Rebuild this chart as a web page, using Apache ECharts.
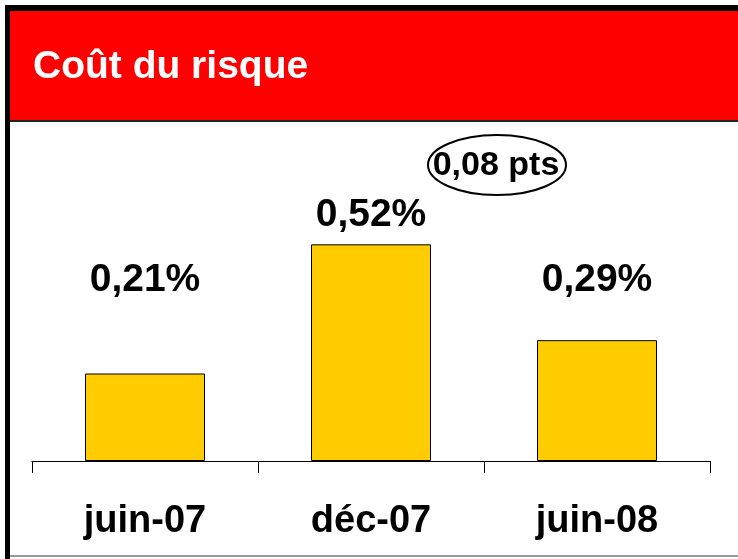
<!DOCTYPE html>
<html>
<head>
<meta charset="utf-8">
<script src="https://cdn.jsdelivr.net/npm/echarts@6/dist/echarts.min.js"></script>
<style>
  html, body { margin: 0; padding: 0; background: #fff; }
  #main { width: 738px; height: 559px; }
</style>
</head>
<body>
<div id="main"></div>
<script>
// données
var categories = ['juin-07', 'déc-07', 'juin-08'];
var values = [0.21, 0.52, 0.29];
var labelTexts = ['0,21%', '0,52%', '0,29%'];
var titleText = 'Coût du risque';
var deltaText = '0,08 pts';

// écart entre le haut de la barre et l'étiquette
var labelGap = [74, 10, 40];

var font = "'Liberation Sans', Arial, sans-serif";

var chart = echarts.init(document.getElementById('main'));

var barData = values.map(function (v, i) {
  return {
    value: v,
    label: {
      distance: labelGap[i],
      formatter: labelTexts[i]
    }
  };
});

var option = {
  backgroundColor: '#ffffff',
  animation: false,
  graphic: [
    // cadre
    { type: 'rect', shape: { x: 5, y: 5, width: 733, height: 6 }, style: { fill: '#000' } },
    { type: 'rect', shape: { x: 5, y: 5, width: 5, height: 554 }, style: { fill: '#000' } },
    { type: 'rect', shape: { x: 10, y: 11, width: 728, height: 110 }, style: { fill: '#ff0000' } },
    { type: 'rect', shape: { x: 10, y: 120, width: 728, height: 2 }, style: { fill: '#222' } },
    { type: 'rect', shape: { x: 10, y: 555, width: 728, height: 2 }, style: { fill: '#999' } },
    {
      type: 'text',
      left: 33,
      top: 48,
      style: {
        text: titleText,
        fill: '#fff',
        font: 'bold 39px ' + font
      }
    },
    // écart
    {
      type: 'ellipse',
      shape: { cx: 497, cy: 165, rx: 69, ry: 30 },
      style: { fill: 'none', stroke: '#000', lineWidth: 2 }
    },
    {
      type: 'text',
      x: 496,
      y: 166,
      style: {
        text: deltaText,
        fill: '#000',
        font: 'bold 34px ' + font,
        align: 'center',
        verticalAlign: 'middle'
      }
    }
  ],
  grid: {
    left: 32,
    right: 28,
    top: 211,
    bottom: 98
  },
  xAxis: {
    type: 'category',
    data: categories,
    axisLine: { lineStyle: { color: '#000', width: 1 } },
    axisTick: { show: true, length: 12, lineStyle: { color: '#000', width: 1 } },
    axisLabel: {
      margin: 42,
      color: '#000',
      fontSize: 38,
      fontWeight: 'bold',
      fontFamily: font
    }
  },
  yAxis: {
    type: 'value',
    min: 0,
    max: 0.6,
    show: false,
    splitLine: { show: false }
  },
  series: [
    {
      type: 'bar',
      barWidth: 120,
      data: barData,
      itemStyle: {
        color: '#ffcc00',
        borderColor: '#000',
        borderWidth: 1
      },
      label: {
        show: true,
        position: 'top',
        color: '#000',
        fontSize: 39,
        fontWeight: 'bold',
        fontFamily: font
      }
    }
  ]
};
chart.setOption(option);
</script>
</body>
</html>
